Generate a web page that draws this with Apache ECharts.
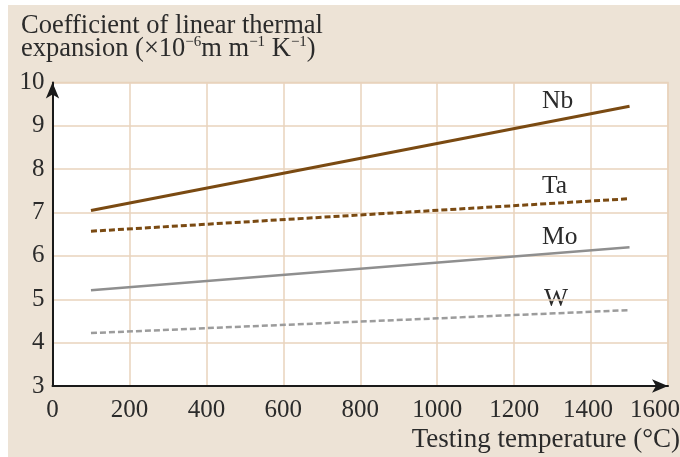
<!DOCTYPE html>
<html>
<head>
<meta charset="utf-8">
<script src="https://cdn.jsdelivr.net/npm/echarts@6/dist/echarts.min.js"></script>
<style>
  html, body { margin: 0; padding: 0; background: #ffffff; }
  #chart { position: absolute; left: 8px; top: 5px; width: 672px; height: 452px; background: #ede3d6; }
</style>
</head>
<body>
<div id="chart"></div>
<script>
// Testing temperatures (°C) at the ends of each fitted line
const temps = [100, 1500];
// Coefficient of linear thermal expansion (×10^-6 m m^-1 K^-1)
const nb = [7.05, 9.45];
const ta = [6.57, 7.32];
const mo = [5.21, 6.20];
const w  = [4.22, 4.75];
const metals = ['Nb', 'Ta', 'Mo', 'W'];
const xTicks = [0, 200, 400, 600, 800, 1000, 1200, 1400, 1600];
const yTicks = [3, 4, 5, 6, 7, 8, 9, 10];

const FONT = '"Liberation Serif", "DejaVu Serif", serif';
const TEXT = '#2b2b2b';
const GRID = '#e8d3bc';
const BROWN = '#7a4a12';

function pairs(xs, ys) { return xs.map((x, i) => [x, ys[i]]); }

const chart = echarts.init(document.getElementById('chart'), null, { renderer: 'canvas' });

function lineSeries(name, values, color, dashed, width) {
  return {
    name: name,
    type: 'line',
    data: pairs(temps, values),
    symbol: 'none',
    silent: true,
    lineStyle: { color: color, width: width, type: dashed ? [6, 3] : 'solid', cap: 'butt' },
    z: 5
  };
}

// last x label sits a little to the left so it stays inside the frame
function xLabel(v) {
  if (xTicks.indexOf(v) < 0) return '';
  if (v === xTicks[xTicks.length - 1]) return '{last|' + v + '}';
  if (v === xTicks[xTicks.length - 2]) return '{prev|' + v + '}';
  return String(v);
}

chart.setOption({
  animation: false,
  backgroundColor: '#ede3d6',
  textStyle: { fontFamily: FONT },
  grid: {
    left: 44.5, right: 12, top: 77.5, bottom: 71,
    outerBoundsMode: 'none', containLabel: false,
    show: true, backgroundColor: '#ffffff', borderColor: GRID, borderWidth: 1.5
  },
  xAxis: {
    type: 'value', min: 0, max: 1600, interval: 200,
    axisLine: { show: true, onZero: false, lineStyle: { color: '#1a1a1a', width: 2 },
      symbol: ['none', 'arrow'], symbolSize: [10, 16], symbolOffset: [0, 0] },
    axisTick: { show: false },
    splitLine: { show: true, lineStyle: { color: GRID, width: 1.5 } },
    axisLabel: {
      fontFamily: FONT, fontSize: 25, color: TEXT, margin: 12,
      formatter: xLabel,
      rich: {
        last: { fontFamily: FONT, fontSize: 25, color: TEXT, padding: [0, 26, 0, 0] },
        prev: { fontFamily: FONT, fontSize: 25, color: TEXT, padding: [0, 6, 0, 0] }
      }
    }
  },
  yAxis: {
    type: 'value', min: 3, max: 10, interval: 1,
    axisLine: { show: true, onZero: false, lineStyle: { color: '#1a1a1a', width: 2 },
      symbol: ['none', 'arrow'], symbolSize: [10, 16], symbolOffset: [0, 0] },
    axisTick: { show: false },
    splitLine: { show: true, lineStyle: { color: GRID, width: 1.5 } },
    axisLabel: {
      fontFamily: FONT, fontSize: 25, color: TEXT, margin: 8,
      formatter: v => (yTicks.indexOf(v) >= 0 ? String(v) : '')
    }
  },
  series: [
    lineSeries(metals[0], nb, BROWN, false, 3),
    lineSeries(metals[1], ta, BROWN, true, 3),
    lineSeries(metals[2], mo, '#8f8f8f', false, 2.5),
    lineSeries(metals[3], w, '#9c9c9c', true, 2.5)
  ],
  graphic: [
    {
      type: 'text', left: 13, top: 8,
      style: { text: 'Coefficient of linear thermal', font: '26.5px ' + FONT, fill: TEXT }
    },
    {
      type: 'text', left: 13, top: 30,
      style: {
        text: 'expansion (×10{s|−6}m m{s|−1} K{s|−1})',
        font: '26.5px ' + FONT, fill: TEXT,
        rich: { s: { fontSize: 15, fontFamily: FONT, fill: TEXT, padding: [0, 0, 13, 0] } }
      }
    },
    {
      type: 'text', right: 0, bottom: 4,
      style: { text: 'Testing temperature (°C)', font: '27px ' + FONT, fill: TEXT }
    },
    { type: 'text', left: 534, top: 83, style: { text: metals[0], font: '25.5px ' + FONT, fill: TEXT } },
    { type: 'text', left: 534, top: 168, style: { text: metals[1], font: '25.5px ' + FONT, fill: TEXT } },
    { type: 'text', left: 534, top: 219, style: { text: metals[2], font: '25.5px ' + FONT, fill: TEXT } },
    { type: 'text', left: 536, top: 281, style: { text: metals[3], font: '25.5px ' + FONT, fill: TEXT } }
  ]
});
</script>
</body>
</html>
